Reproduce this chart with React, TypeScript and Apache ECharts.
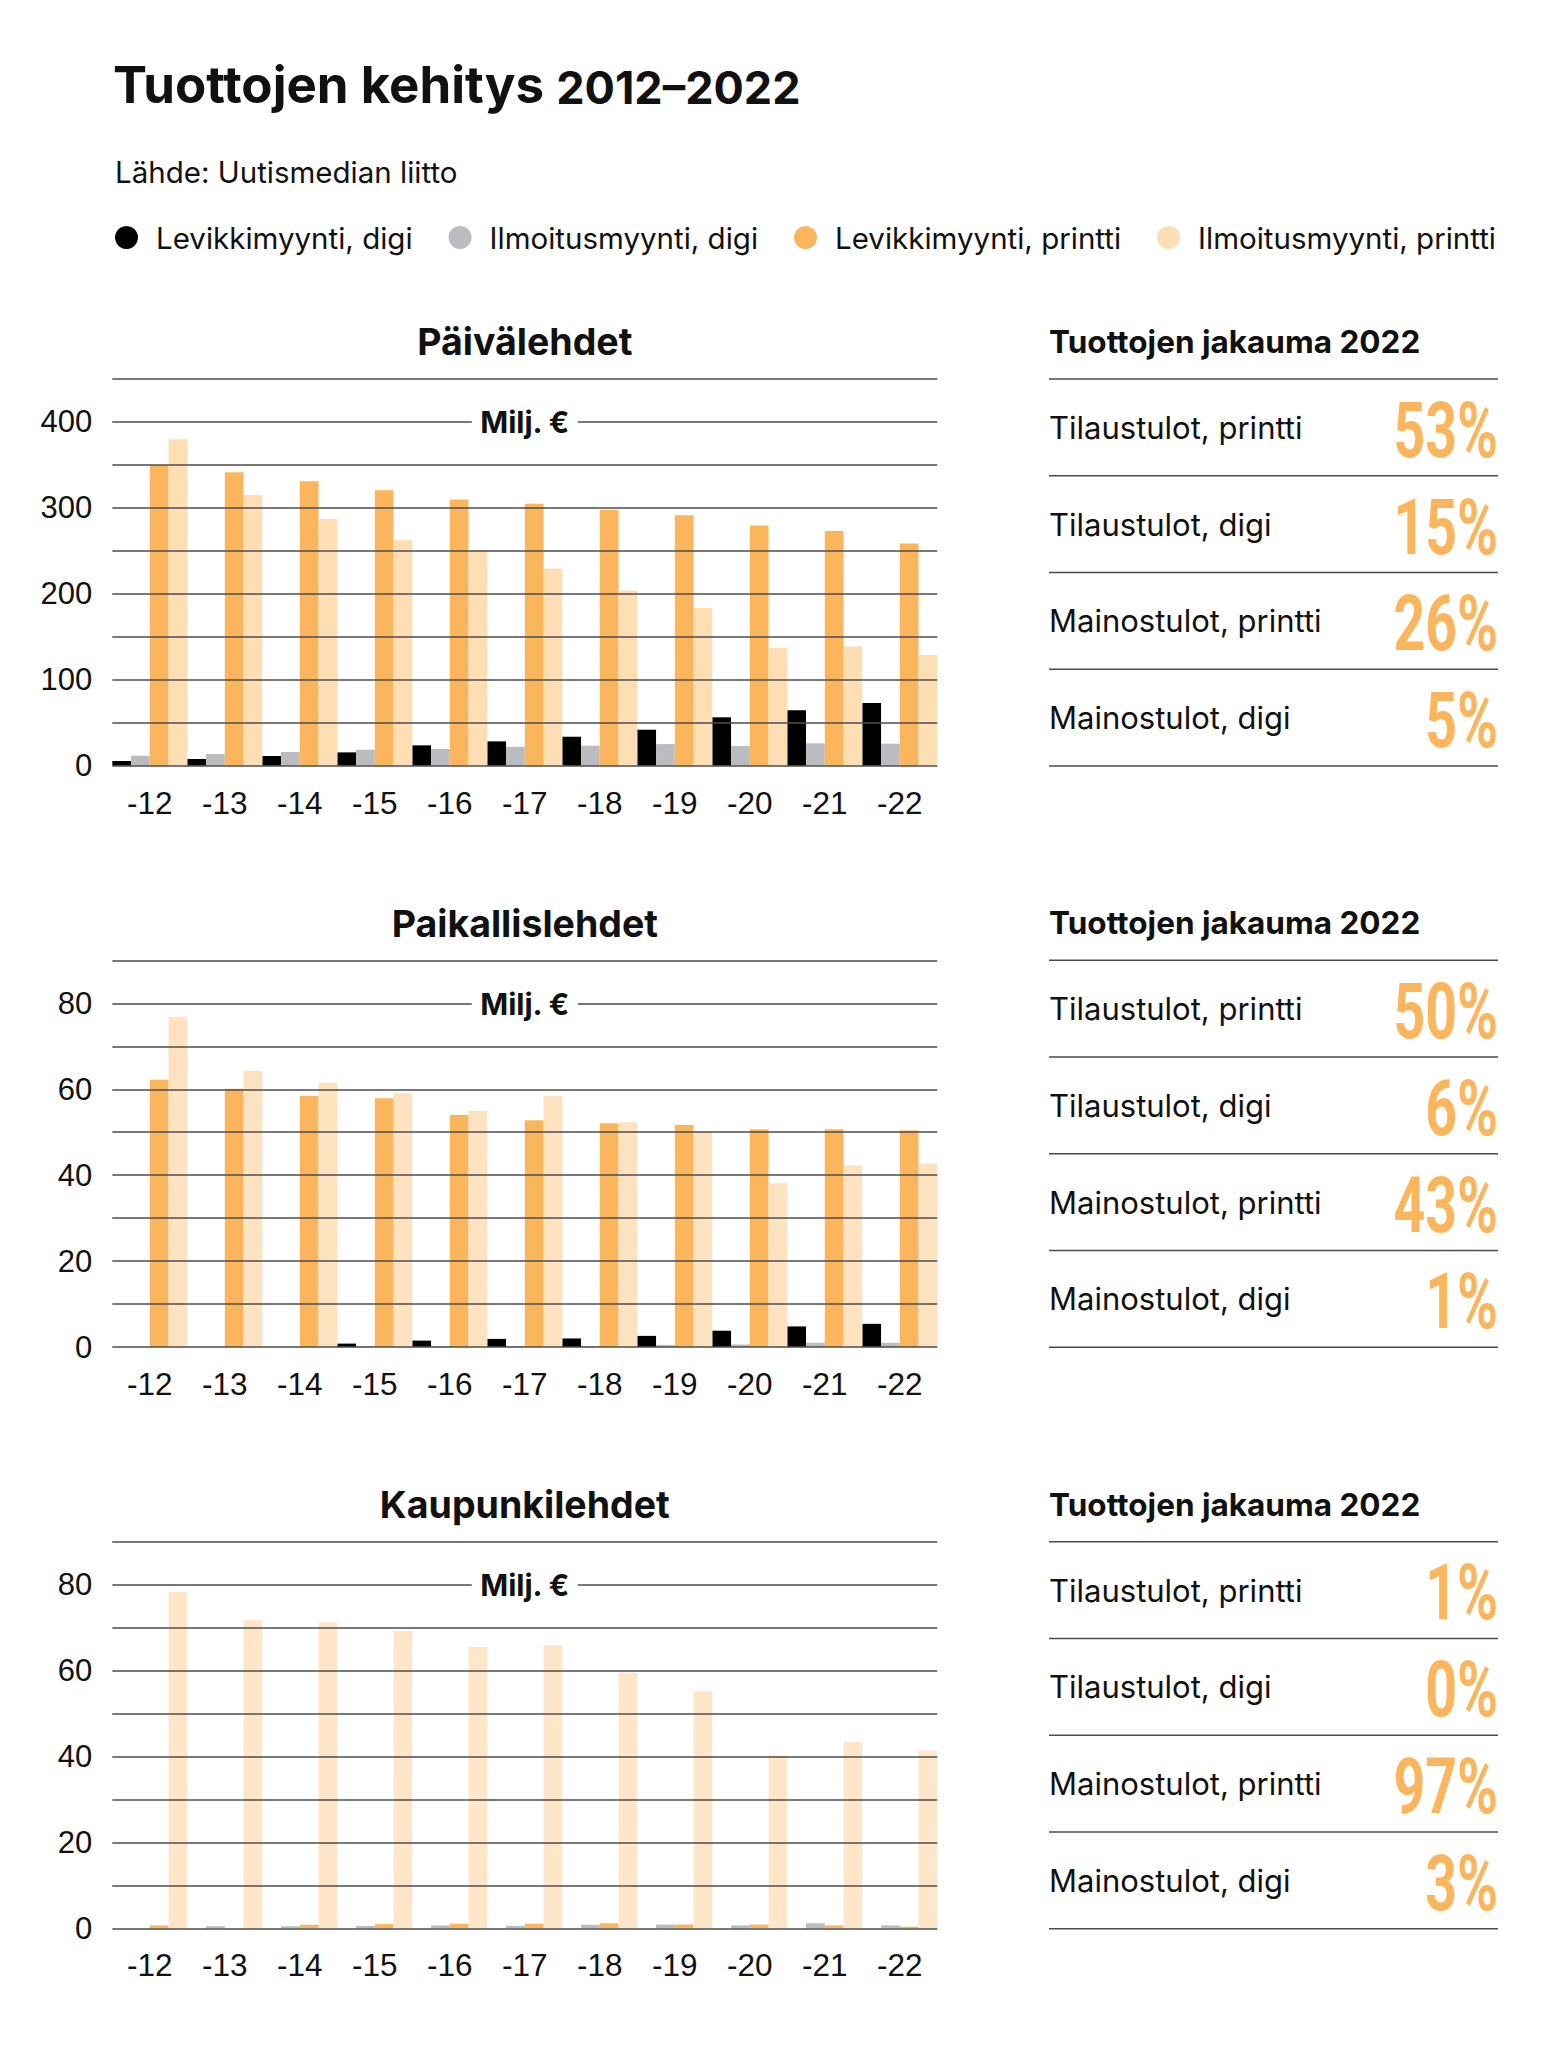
import React, { useEffect, useRef } from "react";
import * as echarts from "echarts";

// ---------- DATA ----------
const years = ["-12", "-13", "-14", "-15", "-16", "-17", "-18", "-19", "-20", "-21", "-22"];
const seriesNames = [
  "Levikkimyynti, digi",
  "Ilmoitusmyynti, digi",
  "Levikkimyynti, printti",
  "Ilmoitusmyynti, printti",
];
const sectionTitles = ["Päivälehdet", "Paikallislehdet", "Kaupunkilehdet"];

// Päivälehdet (Milj. €)
const paivaLevDigi = [5.5, 7.8, 11.3, 15.5, 23.7, 28.3, 33.7, 41.9, 56.3, 64.4, 72.9];
const paivaIlmDigi = [11.6, 13.6, 16, 18.6, 19.4, 22, 23.3, 25.2, 22.9, 26, 25.6];
const paivaLevPrint = [350, 341.5, 331, 320.5, 309.7, 304.7, 297.7, 291.5, 279.5, 273, 258.6];
const paivaIlmPrint = [380, 315, 287, 263, 251, 229.5, 204, 183.4, 137, 138.8, 128.7];

// Paikallislehdet (Milj. €)
const paikLevDigi = [0, 0, 0, 0.8, 1.5, 1.9, 2.0, 2.6, 3.8, 4.8, 5.4];
const paikIlmDigi = [0, 0, 0, 0.2, 0.2, 0.2, 0.2, 0.5, 0.6, 1.0, 1.0];
const paikLevPrint = [62.2, 60.1, 58.4, 57.9, 54, 52.8, 52.1, 51.7, 50.7, 50.7, 50.4];
const paikIlmPrint = [76.9, 64.3, 61.5, 59.1, 55, 58.4, 52.3, 50.1, 38.1, 42.3, 42.7];

// Kaupunkilehdet (Milj. €)
const kaupLevDigi = [0, 0, 0, 0, 0, 0, 0, 0, 0, 0, 0];
const kaupIlmDigi = [0, 0.5, 0.5, 0.55, 0.7, 0.6, 0.85, 0.9, 0.7, 1.2, 0.7];
const kaupLevPrint = [0.7, 0, 0.85, 1.0, 1.1, 1.1, 1.2, 0.9, 0.9, 0.7, 0.4];
const kaupIlmPrint = [78.3, 71.7, 71.2, 69.2, 65.5, 65.9, 59.5, 55.2, 40.2, 43.4, 41.4];

// Axis settings
const yMaxes = [450, 90, 90];
const yIntervals = [50, 10, 10];
const yLabelSteps = [100, 20, 20];

// Tuottojen jakauma 2022 (%)
const tableLabels = ["Tilaustulot, printti", "Tilaustulot, digi", "Mainostulot, printti", "Mainostulot, digi"];
const paivaShares = [53, 15, 26, 5];
const paikShares = [50, 6, 43, 1];
const kaupShares = [1, 0, 97, 3];

// ---------- STYLE / LAYOUT ----------
const W = 1544;
const H = 2048;
const GRID_LEFT = 112.3;
const GRID_W = 825;
const GRID_TOP = 379;
const GRID_H = 386.7;
const DY = 581.35;
const TABLE_X1 = 1049;
const TABLE_X2 = 1498;
const ROW_H = 96.75;
const LINE_COLOR = "#4d4d4d";
const TEXT_COLOR = "#111111";
const ORANGE = "#FBB65D";
const GRAY = "#BBBCBF";
const LIGHTS = ["#FFDEB3", "#FFE3C1", "#FFE6C8"];
const UI_FONT = "Inter, 'Noto Sans', sans-serif";
const AXIS_FONT = "'Liberation Sans', Arial, sans-serif";

export default function App() {
  const ref = useRef<HTMLDivElement>(null);

  useEffect(() => {
    document.body.style.margin = "0";
    if (!ref.current) return;
    const chart = echarts.init(ref.current, null, { renderer: "svg" });

    const sectionData = [
      [paivaLevDigi, paivaIlmDigi, paivaLevPrint, paivaIlmPrint],
      [paikLevDigi, paikIlmDigi, paikLevPrint, paikIlmPrint],
      [kaupLevDigi, kaupIlmDigi, kaupLevPrint, kaupIlmPrint],
    ];
    const sectionShares = [paivaShares, paikShares, kaupShares];

    const grids: any[] = [];
    const xAxes: any[] = [];
    const yAxes: any[] = [];
    const series: any[] = [];
    const graphics: any[] = [];

    sectionData.forEach((sets, s) => {
      const oy = s * DY;
      grids.push({ left: GRID_LEFT, top: GRID_TOP + oy, width: GRID_W, height: GRID_H, containLabel: false });
      xAxes.push({
        type: "category",
        gridIndex: s,
        data: years,
        axisLine: { show: false },
        axisTick: { show: false },
        axisLabel: {
          interval: 0,
          margin: 37,
          verticalAlign: "middle",
          fontSize: 31.5,
          fontFamily: AXIS_FONT,
          color: TEXT_COLOR,
        },
      });
      const step = yLabelSteps[s];
      yAxes.push({
        type: "value",
        gridIndex: s,
        min: 0,
        max: yMaxes[s],
        interval: yIntervals[s],
        z: 3,
        axisLine: { show: false },
        axisTick: { show: false },
        axisLabel: {
          margin: 20,
          fontSize: 31,
          fontFamily: AXIS_FONT,
          color: TEXT_COLOR,
          formatter: (v: number) => (Math.round(v) % step === 0 ? String(v) : ""),
        },
        splitLine: { show: true, lineStyle: { color: LINE_COLOR, width: 1.5 } },
      });
      const colors = ["#000000", GRAY, ORANGE, LIGHTS[s]];
      sets.forEach((arr, j) => {
        series.push({
          type: "bar",
          name: seriesNames[j],
          xAxisIndex: s,
          yAxisIndex: s,
          data: arr,
          barGap: "0%",
          barCategoryGap: "0%",
          itemStyle: { color: colors[j] },
          emphasis: { disabled: true },
        });
      });

      // section title
      graphics.push({
        type: "text",
        x: GRID_LEFT + GRID_W / 2,
        y: 341.7 + oy,
        z: 100,
        style: {
          text: sectionTitles[s],
          textAlign: "center",
          textVerticalAlign: "middle",
          fontSize: 37.5,
          fontWeight: "bold",
          fontFamily: UI_FONT,
          fill: TEXT_COLOR,
        },
      });
      // unit label over gridline
      graphics.push({
        type: "text",
        x: GRID_LEFT + GRID_W / 2,
        y: 422.3 + oy,
        z: 100,
        style: {
          text: "Milj. €",
          textAlign: "center",
          textVerticalAlign: "middle",
          fontSize: 30,
          fontWeight: "bold",
          fontFamily: UI_FONT,
          fill: TEXT_COLOR,
          backgroundColor: "#ffffff",
          padding: [4, 8],
        },
      });
      // table title
      graphics.push({
        type: "text",
        x: TABLE_X1,
        y: 341.5 + oy,
        z: 100,
        style: {
          text: "Tuottojen jakauma 2022",
          textAlign: "left",
          textVerticalAlign: "middle",
          fontSize: 31.5,
          fontWeight: "bold",
          fontFamily: UI_FONT,
          fill: TEXT_COLOR,
        },
      });
      for (let k = 0; k <= tableLabels.length; k++) {
        const ly = GRID_TOP + oy + k * ROW_H;
        graphics.push({
          type: "line",
          z: 100,
          shape: { x1: TABLE_X1, y1: ly, x2: TABLE_X2, y2: ly },
          style: { stroke: LINE_COLOR, lineWidth: 1.5 },
        });
      }
      tableLabels.forEach((lab, k) => {
        const cy = GRID_TOP + oy + k * ROW_H + ROW_H / 2;
        graphics.push({
          type: "text",
          x: TABLE_X1,
          y: cy,
          z: 100,
          style: {
            text: lab,
            textAlign: "left",
            textVerticalAlign: "middle",
            fontSize: 31,
            fontFamily: UI_FONT,
            fill: TEXT_COLOR,
          },
        });
        graphics.push({
          type: "text",
          x: TABLE_X2,
          y: cy + 3,
          scaleX: 0.72,
          z: 100,
          style: {
            text: sectionShares[s][k] + "%",
            textAlign: "right",
            textVerticalAlign: "middle",
            fontSize: 77,
            fontWeight: "bold",
            fontFamily: "Roboto, 'Liberation Sans', sans-serif",
            fill: ORANGE,
          },
        });
      });
    });

    // main title and source
    graphics.push({
      type: "text",
      x: 113,
      y: 81.5,
      z: 100,
      style: {
        text: "{a|Tuottojen kehitys }{b|2012–2022}",
        textVerticalAlign: "middle",
        rich: {
          a: { fontSize: 51, fontWeight: "bold", fontFamily: UI_FONT, fill: TEXT_COLOR, color: TEXT_COLOR, lineHeight: 56, verticalAlign: "bottom" },
          b: { fontSize: 45, fontWeight: "bold", fontFamily: UI_FONT, fill: TEXT_COLOR, color: TEXT_COLOR, lineHeight: 53, verticalAlign: "bottom" },
        },
      },
    });
    graphics.push({
      type: "text",
      x: 115,
      y: 172,
      z: 100,
      style: {
        text: "Lähde: Uutismedian liitto",
        textAlign: "left",
        textVerticalAlign: "middle",
        fontSize: 29.5,
        fontFamily: UI_FONT,
        fill: TEXT_COLOR,
      },
    });

    chart.setOption({
      animation: false,
      backgroundColor: "#ffffff",
      legend: {
        data: seriesNames,
        left: 115,
        top: 222.5,
        padding: 0,
        icon: "circle",
        itemWidth: 23,
        itemHeight: 23,
        itemGap: 36,
        selectedMode: false,
        textStyle: {
          fontSize: 29.5,
          fontFamily: UI_FONT,
          color: TEXT_COLOR,
          padding: [0, 0, 0, 13],
        },
      },
      grid: grids,
      xAxis: xAxes,
      yAxis: yAxes,
      series,
      graphic: { elements: graphics },
    });

    return () => {
      chart.dispose();
    };
  }, []);

  return <div ref={ref} style={{ width: W, height: H }} />;
}
